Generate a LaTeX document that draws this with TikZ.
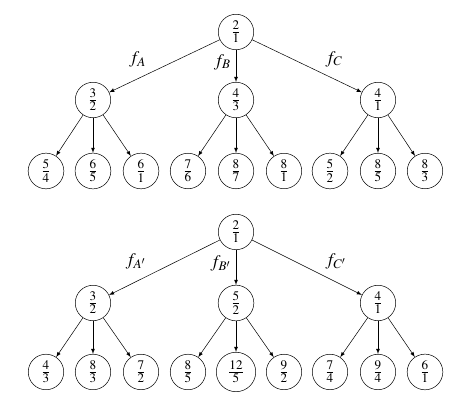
\documentclass[tikz,border=0pt,12pt]{standalone}
\usepackage{mathptmx}
\usetikzlibrary{positioning}
\tikzset{fracnode/.style={circle,draw,minimum size=0.95cm,inner sep=3.4pt}}

\begin{document}
\begin{tikzpicture}[>=latex,font=\fontsize{14}{17}\selectfont]
	\useasboundingbox (0,0) rectangle (13.167,-11.361);
	% Upper Tree %
	\node[fracnode] (r1) at (6.556,-0.889) {$\frac{2}{1}$};
	\foreach \name/\x/\num/\den in {a1/2.583/3/2, b1/6.556/4/3, c1/10.5/4/1} \node[fracnode] (\name) at (\x,-2.778) {$\frac{\num}{\den}$};
	\foreach \name/\x/\num/\den in {a11/1.278/5/4, a12/2.583/6/5, a13/3.917/6/1, b11/5.222/7/6, b12/6.556/8/7, b13/7.889/8/1, c11/9.167/5/2, c12/10.5/8/5, c13/11.806/8/3} \node[fracnode] (\name) at (\x,-4.75) {$\frac{\num}{\den}$};
	\draw [->] (r1) -- node [pos=0.62,above left] {$f_A$} (a1);
	\draw [->] (r1) -- node [pos=0.38,left] {$f_B$} (b1);
	\draw [->] (r1) -- node [pos=0.62,above right] {$f_C$} (c1);
	\foreach \p in {a1,b1,c1} \foreach \s in {1,2,3} \draw [->] (\p) -- (\p\s);
	% Lower Tree %
	\node[fracnode] (r2) at (6.556,-6.444) {$\frac{2}{1}$};
	\foreach \name/\x/\num/\den in {a2/2.583/3/2, b2/6.556/5/2, c2/10.5/4/1} \node[fracnode] (\name) at (\x,-8.417) {$\frac{\num}{\den}$};
	\foreach \name/\x/\num/\den in {a21/1.278/4/3, a22/2.583/8/3, a23/3.917/7/2, b21/5.222/8/5, b22/6.556/12/5, b23/7.889/9/2, c21/9.167/7/4, c22/10.5/9/4, c23/11.806/6/1} \node[fracnode] (\name) at (\x,-10.333) {$\frac{\num}{\den}$};
	\draw [->] (r2) -- node [pos=0.62,above left] {$f_{A'}$} (a2);
	\draw [->] (r2) -- node [pos=0.38,left] {$f_{B'}$} (b2);
	\draw [->] (r2) -- node [pos=0.62,above right] {$f_{C'}$} (c2);
	\foreach \p in {a2,b2,c2} \foreach \s in {1,2,3} \draw [->] (\p) -- (\p\s);
\end{tikzpicture}
\end{document}
